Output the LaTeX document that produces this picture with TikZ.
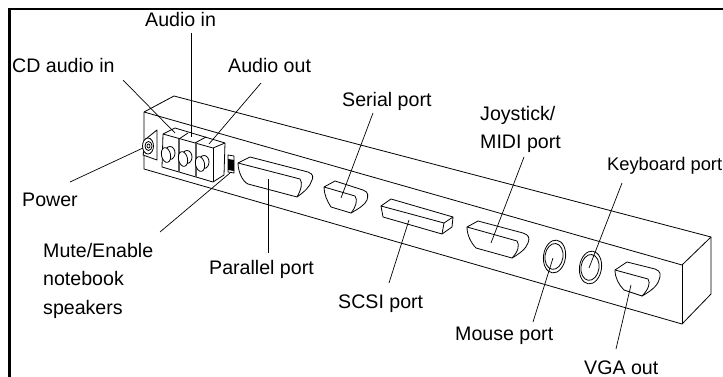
\documentclass[tikz,border=0pt]{standalone}
\usepackage{fontspec}
\setmainfont{Liberation Sans}
\tikzset{
  lbl/.style={inner sep=0pt,anchor=base west,align=left,font=\fontsize{19.6}{28.5}\selectfont},
  body/.style={line width=0.8pt},
  port/.style={line width=0.8pt,fill=white,line join=round},
  leader/.style={line width=0.7pt},
}
\begin{document}
\begin{tikzpicture}[x=1pt,y=-1pt]
        \useasboundingbox (0,0) rectangle (723,377);
        % draw outer frame
            \draw[line width=2.2pt] (9.5,377) -- (9.5,9) -- (723,9);

        % draw long box
            \draw[body] (144,112) -- (174,96) -- (711,237) -- (711,294) -- (682,324) -- (144,169) -- (144,112);
            \draw[body] (144,112) -- (682,265) -- (711,237);
            \draw[body] (682,265) -- (682,324);

        % power jack
            \draw[port] (147,138) -- (157,130) -- (157,160) -- (143,155) -- cycle;
            \draw[port] (148,146) ellipse (5.5 and 8);
            \draw[body] (148.5,146) ellipse (3.5 and 4.5);
            \draw[body] (148.5,146) ellipse (1.5 and 2);

        % audio block
            \draw[port] (163,134) -- (175,128) -- (225,143) -- (224,175) -- (213,182) -- (162,167) -- cycle;
            \draw[body] (163,134) -- (213,148) -- (225,143);
            \draw[body] (213,148) -- (213,182);
            \draw[body] (179,139) -- (188,133);
            \draw[body] (195,143) -- (206,137);
            \draw[line width=1.1pt,gray!70!black] (179,139) -- (179,172);
            \draw[line width=1.1pt,gray!70!black] (196,143) -- (196,177);
            \foreach \x/\y in {166/155,183/159,200/164}
            {
              \draw[port] (\x+4,\y-2) ellipse (5 and 6.5);
              \draw[port,rotate around={12:(\x,\y)}] (\x,\y) ellipse (4.5 and 7.5);
            }

        % mute switch
            \draw[body] (228,155) -- (234,156) -- (234,173) -- (228,172) -- cycle;
            \fill (228,159) -- (234,160) -- (234,171) -- (228,170) -- cycle;

        % parallel port
            \draw[port] (238,163) -- (250,157) -- (308,172) .. controls (314,174) and (313,178) .. (312,180) .. controls (310,187) and (304,192) .. (297,197) -- (248,184) .. controls (243,182) and (238,172) .. (238,163) -- cycle;
            \draw[body] (238,163) -- (300,179) .. controls (303,183) and (301,190) .. (297,197);

        % serial port
            \draw[port] (324,187) -- (335,181) -- (363,190) .. controls (369,192) and (368,196) .. (367,200) .. controls (365,205) and (358,209) .. (351,213) -- (331,207) .. controls (327,201) and (324,194) .. (324,187) -- cycle;
            \draw[body] (324,187) -- (355,196) .. controls (358,200) and (356,207) .. (351,213);

        % scsi port
            \draw[port] (381,206) -- (391,199) -- (453,217) -- (452,227) -- (442,234) -- (383,217) -- cycle;
            \draw[body] (381,206) -- (444,223) -- (453,217);
            \draw[body] (444,223) -- (442,234);

        % joystick port
            \draw[port] (467,227) -- (478,221) -- (523,233) .. controls (529,235) and (530,238) .. (528,243) .. controls (526,249) and (519,254) .. (512,258) -- (476,248) .. controls (471,243) and (467,235) .. (467,227) -- cycle;
            \draw[body] (467,227) -- (517,241) .. controls (520,245) and (518,252) .. (512,258);

        % round ports
            \foreach \x/\y in {554.5/256.5,590.5/267.5}
            {
              \draw[port,rotate around={-8:(\x,\y)}] (\x,\y) ellipse (11 and 16.5);
              \draw[body,rotate around={-8:(\x,\y)}] (\x-0.5,\y) ellipse (9 and 13);
            }

        % vga port
            \draw[port] (615,270) -- (627,262) -- (655,269) .. controls (661,271) and (661,275) .. (659,280) .. controls (657,287) and (649,292) .. (642,296) -- (624,290) .. controls (619,285) and (615,278) .. (615,270) -- cycle;
            \draw[body] (615,270) -- (648,279) .. controls (651,283) and (648,290) .. (642,296);

        % labels
            \node[lbl] (audioin)  at (145,26.7)  {Audio in};
            \node[lbl] (cdaudio)  at (12,72.7)   {CD audio in};
            \node[lbl] (audioout) at (228,72.7)  {Audio out};
            \node[lbl] (power)    at (22,206)    {Power};
            \node[lbl] (mute)     at (43,314)    {Mute/Enable\\notebook\\speakers};
            \node[lbl] (parallel) at (209,274)   {Parallel port};
            \node[lbl] (serial)   at (342,107)   {Serial port};
            \node[lbl] (joystick) at (480,149)   {Joystick/\\MIDI port};
            \node[lbl,font=\fontsize{18.3}{22}\selectfont] (keyboard) at (607,171) {Keyboard port};
            \node[lbl] (scsi)     at (338,308)   {SCSI port};
            \node[lbl] (mouse)    at (455,340)   {Mouse port};
            \node[lbl] (vga)      at (584,374.5) {VGA out};

        % leader ends
            \coordinate (cdaudio end)  at (123,80);
            \coordinate (cdaudio tip)  at (175,133);
            \coordinate (audioin end)  at (191,33);
            \coordinate (audioin tip)  at (191,137);
            \coordinate (audioout end) at (261,83);
            \coordinate (audioout tip) at (209,144);
            \coordinate (power end)    at (70,182);
            \coordinate (power tip)    at (143,148);
            \coordinate (mute end)     at (160,232);
            \coordinate (mute tip)     at (230,173);
            \coordinate (parallel end) at (268,253);
            \coordinate (parallel tip) at (268,179);
            \coordinate (serial end)   at (373,113);
            \coordinate (serial tip)   at (341,198);
            \coordinate (scsi end)     at (389,283);
            \coordinate (scsi tip)     at (409,220);
            \coordinate (joystick end) at (524,157);
            \coordinate (joystick tip) at (491,243);
            \coordinate (mouse end)    at (533,322);
            \coordinate (mouse tip)    at (553,258);
            \coordinate (keyboard end) at (622,183);
            \coordinate (keyboard tip) at (589,268);
            \coordinate (vga end)      at (616,349);
            \coordinate (vga tip)      at (631,285);

        % draw leaders
            \foreach \n in {cdaudio,audioin,audioout,power,mute,parallel,serial,scsi,joystick,mouse,keyboard,vga}
            \draw[leader] (\n\space end) -- (\n\space tip);

\end{tikzpicture}
\end{document}
